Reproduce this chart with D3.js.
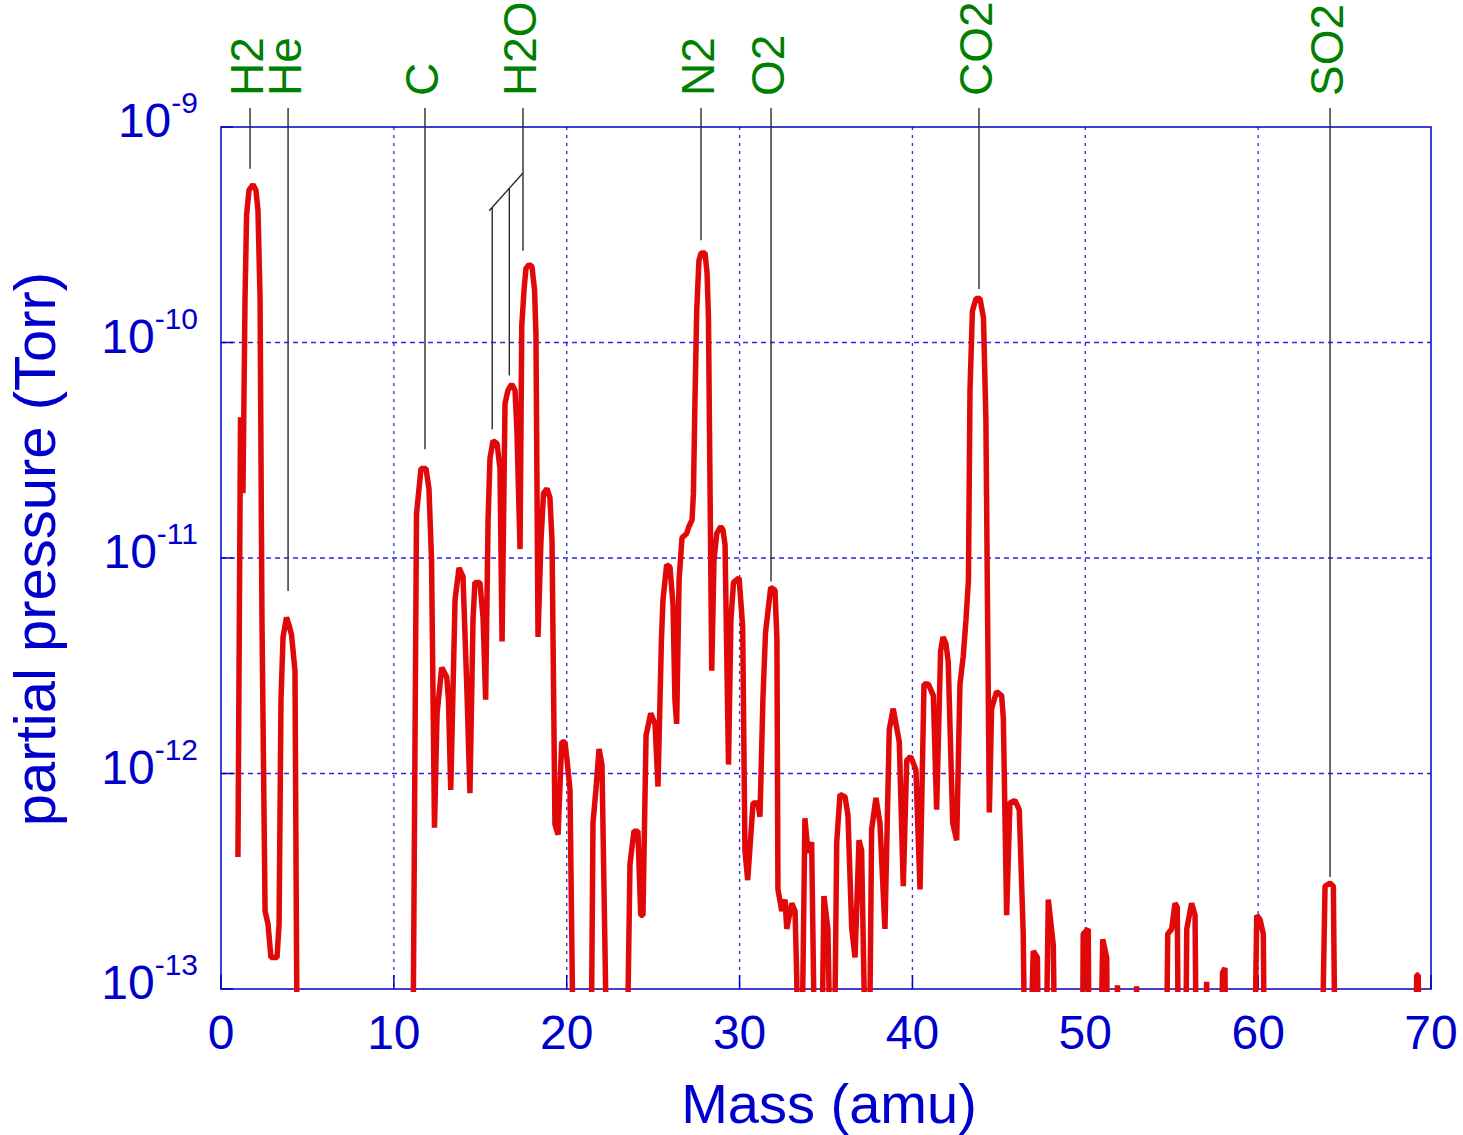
<!DOCTYPE html>
<html>
<head>
<meta charset="utf-8">
<script src="https://cdn.jsdelivr.net/npm/d3@7"></script>
<style>
  body { margin: 0; background: #fff; }
  svg { display: block; font-family: "Liberation Sans", Arial, sans-serif; }
</style>
</head>
<body>
<svg id="chart"></svg>
<script>
// mass scan: [mass (amu), partial pressure (Torr)]; 1e-14 = below the plotted range
const scan = [
  [0.98, 4.1e-13], [1.13, 4.5e-11], [1.27, 2.0e-11], [1.39, 1.6e-10], [1.48, 3.9e-10], [1.62, 5.1e-10],
  [1.85, 5.4e-10], [2.02, 5.1e-10], [2.14, 4.1e-10], [2.26, 1.6e-10], [2.37, 5.2e-12], [2.55, 2.3e-13],
  [2.72, 2.0e-13], [2.89, 1.4e-13], [3.24, 1.4e-13], [3.36, 2.0e-13], [3.47, 2.2e-12], [3.59, 4.3e-12],
  [3.79, 5.3e-12], [3.93, 4.9e-12], [4.08, 4.4e-12], [4.28, 3.0e-12], [4.45, 1e-14],
  [11.05, 1e-14], [11.31, 1.6e-11], [11.57, 2.6e-11], [11.86, 2.6e-11], [12.03, 2.1e-11], [12.18, 9.8e-12],
  [12.35, 5.6e-13], [12.5, 1.9e-12], [12.77, 3.1e-12], [13.06, 2.8e-12], [13.16, 2.2e-12], [13.29, 8.4e-13],
  [13.54, 6.4e-12], [13.77, 9.0e-12], [14.0, 8.2e-12], [14.23, 2.4e-12], [14.4, 8.1e-13], [14.58, 5.2e-12],
  [14.69, 7.7e-12], [14.98, 7.7e-12], [15.16, 5.3e-12], [15.31, 2.2e-12], [15.45, 1.5e-11], [15.56, 2.9e-11],
  [15.74, 3.5e-11], [15.97, 3.4e-11], [16.14, 2.6e-11], [16.26, 4.1e-12], [16.43, 5.2e-11], [16.6, 6.0e-11],
  [16.82, 6.4e-11], [17.01, 6.0e-11], [17.12, 3.9e-11], [17.3, 1.1e-11], [17.4, 1.2e-10], [17.53, 1.75e-10],
  [17.64, 2.2e-10], [17.82, 2.3e-10], [17.99, 2.25e-10], [18.14, 1.75e-10], [18.22, 1.1e-10], [18.34, 4.3e-12],
  [18.51, 1.2e-11], [18.66, 2.0e-11], [18.86, 2.1e-11], [19.03, 1.9e-11], [19.15, 1.2e-11], [19.32, 5.8e-13],
  [19.5, 5.2e-13], [19.71, 1.4e-12], [19.9, 1.4e-12], [20.02, 1.15e-12], [20.19, 8.4e-13], [20.48, 1e-14],
  [21.35, 1e-14], [21.52, 5.9e-13], [21.69, 8.4e-13], [21.87, 1.3e-12], [22.04, 1.1e-12], [22.21, 1.6e-13],
  [22.45, 1e-14],
  [23.37, 1e-14], [23.66, 3.8e-13], [23.89, 5.4e-13], [24.12, 5.4e-13], [24.28, 2.2e-13], [24.41, 2.2e-13],
  [24.59, 1.5e-12], [24.86, 1.9e-12], [25.11, 1.7e-12], [25.28, 8.7e-13], [25.48, 4.2e-12], [25.57, 6.4e-12],
  [25.78, 9.3e-12], [25.97, 9.1e-12], [26.15, 6.1e-12], [26.26, 2.2e-12], [26.36, 1.7e-12], [26.5, 7.9e-12],
  [26.67, 1.24e-11], [26.94, 1.3e-11], [27.07, 1.4e-11], [27.25, 1.5e-11], [27.33, 2.0e-11], [27.42, 5.4e-11],
  [27.52, 1.4e-10], [27.65, 2.4e-10], [27.77, 2.6e-10], [28.0, 2.6e-10], [28.12, 2.1e-10], [28.2, 1.3e-10],
  [28.39, 3.0e-12], [28.52, 9.8e-12], [28.68, 1.3e-11], [28.91, 1.4e-11], [29.04, 1.35e-11], [29.16, 1.15e-11],
  [29.36, 1.1e-12], [29.5, 5.2e-12], [29.65, 7.7e-12], [29.97, 8.1e-12], [30.18, 4.8e-12], [30.31, 4.4e-13],
  [30.47, 3.2e-13], [30.78, 7.3e-13], [31.06, 7.3e-13], [31.18, 6.3e-13], [31.35, 2.2e-12], [31.5, 4.5e-12],
  [31.8, 7.3e-12], [32.05, 7.1e-12], [32.16, 4.2e-12], [32.22, 2.9e-13], [32.44, 2.3e-13], [32.63, 2.6e-13],
  [32.73, 1.9e-13], [33.02, 2.5e-13], [33.21, 2.3e-13], [33.3, 1.2e-13], [33.5, 1e-14],
  [33.78, 6.2e-13], [33.96, 4.3e-13], [34.17, 4.8e-13], [34.46, 1e-14], [34.65, 1e-14], [34.88, 2.7e-13],
  [35.11, 1.9e-13], [35.4, 1e-14], [35.62, 4.8e-13], [35.81, 8.0e-13], [36.1, 7.8e-13], [36.27, 6.4e-13],
  [36.49, 1.9e-13], [36.68, 1.4e-13], [36.91, 4.9e-13], [37.06, 4.4e-13], [37.43, 1e-14], [37.64, 5.5e-13],
  [37.89, 7.7e-13], [38.12, 5.9e-13], [38.41, 1.9e-13], [38.66, 1.6e-12], [38.89, 2.0e-12], [39.24, 1.4e-12],
  [39.47, 3.0e-13], [39.67, 1.15e-12], [39.9, 1.2e-12], [40.2, 1.04e-12], [40.44, 2.9e-13], [40.67, 2.6e-12],
  [40.92, 2.6e-12], [41.21, 2.3e-12], [41.4, 6.8e-13], [41.63, 3.7e-12], [41.77, 4.3e-12], [41.94, 4.0e-12],
  [42.07, 3.3e-12], [42.33, 5.9e-13], [42.56, 4.9e-13], [42.75, 2.6e-12], [42.94, 3.5e-12], [43.1, 5.2e-12],
  [43.24, 7.9e-12], [43.33, 6.0e-11], [43.47, 1.4e-10], [43.68, 1.6e-10], [43.91, 1.6e-10], [44.11, 1.3e-10],
  [44.25, 4.4e-11], [44.34, 6.4e-12], [44.45, 6.6e-13], [44.58, 2.0e-12], [44.87, 2.4e-12], [45.16, 2.3e-12],
  [45.26, 1.8e-12], [45.45, 2.2e-13], [45.64, 7.3e-13], [45.93, 7.5e-13], [46.18, 6.8e-13], [46.41, 1.8e-13],
  [46.6, 1e-14], [46.99, 1.5e-13], [47.23, 1.4e-13], [47.38, 1e-14], [47.61, 1e-14], [47.86, 2.6e-13],
  [48.15, 1.6e-13], [48.35, 1e-14],
  [49.79, 1e-14], [49.88, 1.8e-13], [50.17, 1.9e-13], [50.27, 1e-14], [50.75, 1e-14], [51.01, 1.7e-13],
  [51.24, 1.4e-13], [51.34, 1e-14], [51.66, 1e-14], [51.86, 1.04e-13], [52.07, 1e-14], [52.76, 1e-14],
  [52.97, 1.03e-13], [53.16, 1e-14],
  [54.61, 1e-14], [54.77, 1.8e-13], [55.0, 1.9e-13], [55.19, 2.5e-13], [55.32, 2.4e-13], [55.45, 1e-14],
  [55.74, 1e-14], [55.87, 1.9e-13], [56.15, 2.5e-13], [56.35, 2.2e-13], [56.49, 1e-14], [56.81, 1e-14],
  [57.02, 1.08e-13], [57.21, 1e-14], [57.73, 1e-14], [57.94, 1.19e-13], [58.08, 1.25e-13], [58.2, 1e-14],
  [59.67, 1e-14], [59.92, 2.2e-13], [60.11, 2.1e-13], [60.3, 1.8e-13], [60.42, 1e-14],
  [63.55, 1e-14], [63.87, 3.0e-13], [64.16, 3.1e-13], [64.35, 3.0e-13], [64.53, 1e-14],
  [69.02, 1e-14], [69.17, 1.16e-13], [69.26, 1.16e-13], [69.42, 1e-14]
];

const massTicks = [0, 10, 20, 30, 40, 50, 60, 70];
const decadeExponents = [-9, -10, -11, -12, -13];

// peak identification labels
const species = ["H2", "He", "C", "H2O", "N2", "O2", "CO2", "SO2"];
const speciesMass = [1.68, 3.88, 11.8, 17.47, 27.77, 31.82, 43.85, 64.16];
const speciesPeak = [6.0e-10, 6.6e-12, 3.0e-11, 2.5e-10, 2.8e-10, 7.3e-12, 1.66e-10, 3.1e-13];
// H2O fragment peaks (OH, O) joined to the H2O marker
const h2oFragMass = [15.69, 16.68];
const h2oFragPeak = [3.7e-11, 6.6e-11];

const width = 1463;
const height = 1135;
const margin = { top: 127, right: 32, bottom: 146, left: 221 };
const plotW = width - margin.left - margin.right;
const plotH = height - margin.top - margin.bottom;

const blue = "#0000cc";
const gridBlue = "#2626e4";
const green = "#008000";
const red = "#e00808";

const svg = d3.select("#chart").attr("width", width).attr("height", height);
svg.append("rect").attr("width", width).attr("height", height).attr("fill", "#fff");

const x = d3.scaleLinear().domain([0, 70]).range([margin.left, margin.left + plotW]);
const y = d3.scaleLog().domain([1e-13, 1e-9]).range([margin.top + plotH, margin.top]);

// grid
const grid = svg.append("g");
grid.selectAll(".vg")
  .data(massTicks.filter((d) => d > 0 && d < 70))
  .join("line")
  .attr("x1", (d) => x(d)).attr("x2", (d) => x(d))
  .attr("y1", margin.top).attr("y2", margin.top + plotH)
  .attr("stroke", gridBlue).attr("stroke-width", 1.3)
  .attr("stroke-dasharray", "3,5");

grid.selectAll(".hg")
  .data(decadeExponents.filter((e) => e < -9 && e > -13))
  .join("line")
  .attr("x1", margin.left).attr("x2", margin.left + plotW)
  .attr("y1", (e) => y(Math.pow(10, e))).attr("y2", (e) => y(Math.pow(10, e)))
  .attr("stroke", gridBlue).attr("stroke-width", 1.3)
  .attr("stroke-dasharray", "5,4");

// inner ticks
svg.append("g").selectAll("line")
  .data(massTicks)
  .join("line")
  .attr("x1", (d) => x(d)).attr("x2", (d) => x(d))
  .attr("y1", margin.top + plotH).attr("y2", margin.top + plotH - 14)
  .attr("stroke", blue).attr("stroke-width", 1.5);

svg.append("g").selectAll("line")
  .data(decadeExponents)
  .join("line")
  .attr("x1", margin.left).attr("x2", margin.left + 12)
  .attr("y1", (e) => y(Math.pow(10, e))).attr("y2", (e) => y(Math.pow(10, e)))
  .attr("stroke", blue).attr("stroke-width", 1.5);

// frame
svg.append("rect")
  .attr("x", margin.left).attr("y", margin.top)
  .attr("width", plotW).attr("height", plotH)
  .attr("fill", "none").attr("stroke", blue).attr("stroke-width", 1.5);

// annotation lines
const ann = svg.append("g").attr("stroke", "#2a2a2a").attr("stroke-width", 1.4).attr("fill", "none");
const labelBase = 96;
const lineTop = 108;

ann.selectAll("line")
  .data(species)
  .join("line")
  .attr("x1", (d, i) => x(speciesMass[i])).attr("x2", (d, i) => x(speciesMass[i]))
  .attr("y1", lineTop).attr("y2", (d, i) => y(speciesPeak[i]) - 6);

// H2O branch down to the fragment peaks
const h2oX = x(speciesMass[3]);
const elbowY = margin.top + 46;
const slope = 38 / 34;
ann.append("path")
  .attr("d", `M${h2oX},${elbowY}L${x(h2oFragMass[0]) - 3},${elbowY + (h2oX - x(h2oFragMass[0]) + 3) * slope}`);
ann.selectAll(".frag")
  .data(h2oFragMass)
  .join("line")
  .attr("x1", (d) => x(d)).attr("x2", (d) => x(d))
  .attr("y1", (d) => elbowY + (h2oX - x(d)) * slope)
  .attr("y2", (d, i) => y(h2oFragPeak[i]) - 6);

// species labels
svg.append("g").selectAll("text")
  .data(species)
  .join("text")
  .attr("transform", (d, i) => `translate(${x(speciesMass[i]) + 13},${labelBase}) rotate(-90)`)
  .attr("fill", green)
  .attr("font-size", 46)
  .text((d) => d);

// spectrum
svg.append("clipPath").attr("id", "plotClip")
  .append("rect")
  .attr("x", margin.left).attr("y", margin.top - 10)
  .attr("width", plotW).attr("height", plotH + 13);

const line = d3.line()
  .x((d) => x(d[0]))
  .y((d) => y(d[1]));

svg.append("path")
  .datum(scan)
  .attr("clip-path", "url(#plotClip)")
  .attr("d", line)
  .attr("fill", "none")
  .attr("stroke", red)
  .attr("stroke-width", 5.5)
  .attr("stroke-linejoin", "bevel");

// x tick labels
svg.append("g").selectAll("text")
  .data(massTicks)
  .join("text")
  .attr("x", (d) => x(d))
  .attr("y", margin.top + plotH + 60)
  .attr("text-anchor", "middle")
  .attr("fill", blue)
  .attr("font-size", 48)
  .text((d) => d);

// y tick labels 10^n
const yLab = svg.append("g").selectAll("text")
  .data(decadeExponents)
  .join("text")
  .attr("x", 198)
  .attr("y", (e) => y(Math.pow(10, e)) + 10)
  .attr("text-anchor", "end")
  .attr("fill", blue);
yLab.append("tspan").attr("font-size", 48).text("10");
yLab.append("tspan").attr("font-size", 30).attr("dy", -24).text((e) => e);

// axis titles
svg.append("text")
  .attr("x", margin.left + plotW / 2 + 3)
  .attr("y", 1123)
  .attr("text-anchor", "middle")
  .attr("fill", blue)
  .attr("font-size", 56)
  .text("Mass (amu)");

svg.append("text")
  .attr("transform", `translate(55,${margin.top + plotH / 2 - 9}) rotate(-90)`)
  .attr("text-anchor", "middle")
  .attr("fill", blue)
  .attr("font-size", 58)
  .text("partial pressure (Torr)");
</script>
</body>
</html>
